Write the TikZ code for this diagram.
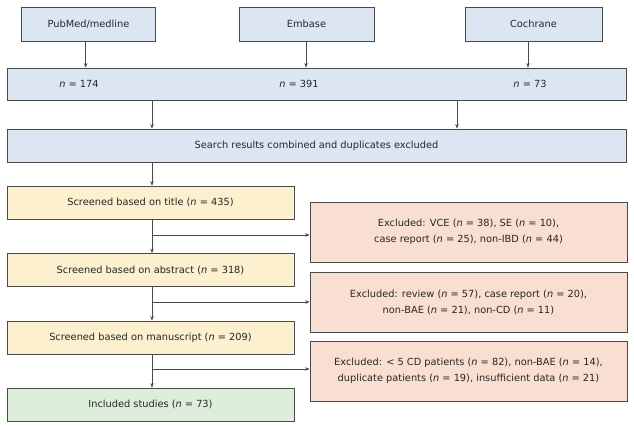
\documentclass[tikz,border=0pt]{standalone}
\usepackage{fontspec}
\setmainfont{DejaVu Sans}
\usetikzlibrary{arrows.meta}
\definecolor{bluefill}{HTML}{DCE6F2}
\definecolor{yelfill}{HTML}{FCF0CF}
\definecolor{pinkfill}{HTML}{F9DFD2}
\definecolor{greenfill}{HTML}{DDEFDB}
\definecolor{edge}{HTML}{4A4A4A}
\tikzset{
  box/.style={draw=edge, line width=0.8pt, rectangle, inner sep=0pt, align=center,
    font=\fontsize{9.8}{16}\selectfont, text=black!85},
  bluebox/.style={box, fill=bluefill},
  yelbox/.style={box, fill=yelfill, minimum width=287, minimum height=33},
  pinkbox/.style={box, fill=pinkfill, minimum width=317, minimum height=60},
  greenbox/.style={box, fill=greenfill, minimum width=287, minimum height=33},
  lbl/.style={font=\fontsize{9.8}{16}\selectfont, text=black!85, inner sep=0pt},
  arr/.style={draw=edge, line width=0.6pt, -{Stealth[length=4.5pt,width=3.5pt]}}
}
\begin{document}
\begin{tikzpicture}[x=1pt,y=-1pt]
\useasboundingbox (0,0) rectangle (634,428);
% top sources
\node[bluebox, minimum width=134, minimum height=34] (pub) at (88.5,24) {PubMed/medline};
\node[bluebox, minimum width=135, minimum height=34] (emb) at (306.5,24) {Embase};
\node[bluebox, minimum width=137, minimum height=34] (coch) at (533.5,24) {Cochrane};
% counts row
\node[bluebox, minimum width=619, minimum height=32] (row) at (316.5,84) {};
\node[lbl] (n1) at (79,84) {\textit{n} = 174};
\node[lbl] (n2) at (299,84) {\textit{n} = 391};
\node[lbl] (n3) at (530,84) {\textit{n} = 73};
% combined
\node[bluebox, minimum width=619, minimum height=33] (search) at (316.5,145.5) {Search results combined and duplicates excluded};
% screening column
\node[yelbox] (s1) at (150.5,202.5) {Screened based on title (\textit{n} = 435)};
\node[yelbox] (s2) at (150.5,270) {Screened based on abstract (\textit{n} = 318)};
\node[yelbox] (s3) at (150.5,337.5) {Screened based on manuscript (\textit{n} = 209)};
\node[greenbox] (inc) at (150.5,404.5) {Included studies (\textit{n} = 73)};
% exclusions
\node[pinkbox] (e1) at (468.5,232) {Excluded: VCE (\textit{n} = 38), SE (\textit{n} = 10),\\case report (\textit{n} = 25), non-IBD (\textit{n} = 44)};
\node[pinkbox] (e2) at (468.5,302) {Excluded: review (\textit{n} = 57), case report (\textit{n} = 20),\\non-BAE (\textit{n} = 21), non-CD (\textit{n} = 11)};
\node[pinkbox] (e3) at (468.5,371) {Excluded: < 5 CD patients (\textit{n} = 82), non-BAE (\textit{n} = 14),\\duplicate patients (\textit{n} = 19), insufficient data (\textit{n} = 21)};
% x positions of connectors
\coordinate (xa) at (85.7,0);
\coordinate (xb) at (306,0);
\coordinate (xc) at (528,0);
\coordinate (xd) at (152,0);
\coordinate (xe) at (457,0);
\coordinate (b1) at (152,235);
\coordinate (b2) at (152,302);
\coordinate (b3) at (152,369);
% arrows top
\draw[arr] (xa |- pub.south) -- (xa |- row.north);
\draw[arr] (xb |- emb.south) -- (xb |- row.north);
\draw[arr] (xc |- coch.south) -- (xc |- row.north);
\draw[arr] (xd |- row.south) -- (xd |- search.north);
\draw[arr] (xe |- row.south) -- (xe |- search.north);
% main column
\draw[arr] (xd |- search.south) -- (xd |- s1.north);
\draw[arr] (xd |- s1.south) -- (xd |- s2.north);
\draw[arr] (xd |- s2.south) -- (xd |- s3.north);
\draw[arr] (xd |- s3.south) -- (xd |- inc.north);
% branches
\draw[arr] (b1) -- (b1 -| e1.west);
\draw[arr] (b2) -- (b2 -| e2.west);
\draw[arr] (b3) -- (b3 -| e3.west);
\end{tikzpicture}
\end{document}
